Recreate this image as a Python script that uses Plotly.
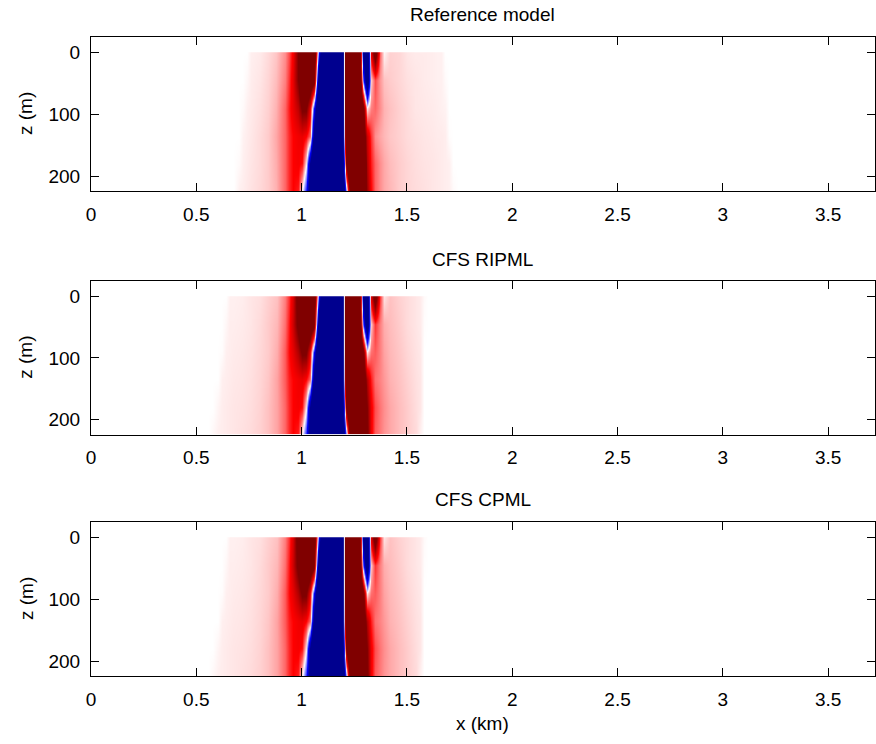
import plotly.graph_objects as go

# Snapshot depths (m) at which each wavefield row is sampled
depths_m = [0, 45, 90, 135, 180, 224]

# ---- Reference model snapshot -------------------------------------------
ref_x_km = [0.66, 0.68, 0.70, 0.72, 0.74, 0.76, 0.80, 0.84, 0.88, 0.92, 0.94,
            0.96, 0.98, 1.00, 1.02, 1.04, 1.06, 1.08, 1.10, 1.19, 1.21, 1.23,
            1.25, 1.27, 1.29, 1.31, 1.33, 1.35, 1.37, 1.39, 1.42, 1.46, 1.50,
            1.54, 1.58, 1.62, 1.64, 1.66, 1.68, 1.70, 1.72, 1.74]
ref_rows = [
    [0, 0, 0, 0, 0, 0.03, 0.04, 0.07, 0.11, 0.22, 0.35, 0.55, 1.0, 1.5, 1.6, 1.6, 1.5, -0.5, -2, -2, 2, 2,
     2, 2, -1, -2, 0.6, 1.3, 0.3, 0.02, 0.09, 0.08, 0.05, 0.04, 0.04, 0.035, 0.03, 0.03, 0, 0, 0, 0],
    [0, 0, 0, 0, 0.015, 0.035, 0.05, 0.08, 0.13, 0.25, 0.4, 0.6, 1.0, 1.5, 1.5, 1.4, 1.2, -1.5, -2, -2, 2, 2,
     2, 2, -0.3, -1.5, 0.1, 0.35, 0.2, 0.12, 0.1, 0.08, 0.06, 0.05, 0.04, 0.035, 0.03, 0.03, 0.01, 0, 0, 0],
    [0, 0, 0, 0.01, 0.03, 0.04, 0.06, 0.09, 0.15, 0.3, 0.45, 0.58, 0.75, 1.05, 1.05, 0.6, -0.5, -2, -2, -2, 2, 2,
     2, 2, 1.2, 0.05, 0.25, 0.3, 0.22, 0.15, 0.12, 0.09, 0.07, 0.05, 0.045, 0.04, 0.035, 0.03, 0.025, 0, 0, 0],
    [0, 0, 0, 0.025, 0.035, 0.045, 0.07, 0.1, 0.17, 0.3, 0.42, 0.5, 0.55, 0.58, 0.5, 0.3, -1.2, -2, -2, -2, 1.8, 2,
     2, 2, 1.3, 0.7, 0.4, 0.22, 0.17, 0.14, 0.11, 0.09, 0.07, 0.06, 0.05, 0.045, 0.04, 0.04, 0.035, 0.005, 0, 0],
    [0, 0, 0.01, 0.03, 0.04, 0.05, 0.07, 0.1, 0.16, 0.3, 0.42, 0.5, 0.53, 0.48, 0.05, -1.0, -2, -2, -2, -2, 1.0, 2,
     2, 2, 1.6, 0.8, 0.45, 0.3, 0.22, 0.17, 0.13, 0.1, 0.08, 0.065, 0.055, 0.05, 0.045, 0.04, 0.035, 0.03, 0, 0],
    [0, 0, 0.03, 0.035, 0.045, 0.055, 0.075, 0.1, 0.15, 0.3, 0.42, 0.5, 0.45, 0.02, -0.45, -1.3, -2, -2, -2, -2, -0.3, 1.2,
     2, 2, 1.6, 0.9, 0.5, 0.3, 0.22, 0.17, 0.14, 0.1, 0.08, 0.07, 0.06, 0.05, 0.045, 0.04, 0.035, 0.03, 0.01, 0],
]

# ---- CFS RIPML snapshot --------------------------------------------------
ripml_x_km = [0.56, 0.58, 0.60, 0.62, 0.64, 0.66, 0.68, 0.72, 0.76, 0.80, 0.84,
              0.88, 0.92, 0.94, 0.96, 0.98, 1.00, 1.02, 1.04, 1.06, 1.08, 1.10,
              1.19, 1.21, 1.23, 1.25, 1.27, 1.29, 1.31, 1.33, 1.35, 1.37, 1.39,
              1.42, 1.46, 1.50, 1.54, 1.56, 1.58, 1.60]
ripml_rows = [
    [0, 0, 0, 0, 0, 0.03, 0.03, 0.035, 0.05, 0.06, 0.09, 0.12, 0.25, 0.4, 0.65, 1.2, 1.6, 1.6, 1.6, 1.5, -0.5, -2,
     -2, 2, 2, 2, 2, -1, -2, 0.6, 1.3, 0.4, 0.05, 0.12, 0.09, 0.07, 0.05, 0.04, 0.01, 0],
    [0, 0, 0, 0, 0.015, 0.035, 0.035, 0.04, 0.05, 0.07, 0.1, 0.14, 0.28, 0.45, 0.7, 1.1, 1.5, 1.5, 1.4, 1.2, -1.5, -2,
     -2, 2, 2, 2, 2, -0.3, -1.5, 0.1, 0.4, 0.25, 0.16, 0.13, 0.1, 0.07, 0.05, 0.04, 0.005, 0],
    [0, 0, 0, 0.005, 0.03, 0.035, 0.04, 0.045, 0.055, 0.075, 0.1, 0.16, 0.32, 0.48, 0.6, 0.8, 1.05, 1.05, 0.6, -0.5, -2, -2,
     -2, 2, 2, 2, 2, 1.2, 0.05, 0.28, 0.32, 0.25, 0.18, 0.14, 0.11, 0.08, 0.055, 0.045, 0, 0],
    [0, 0, 0, 0.03, 0.035, 0.04, 0.045, 0.05, 0.06, 0.08, 0.11, 0.18, 0.32, 0.44, 0.5, 0.55, 0.58, 0.5, 0.3, -1.2, -2, -2,
     -2, 1.8, 2, 2, 2, 1.4, 0.8, 0.45, 0.28, 0.24, 0.2, 0.15, 0.12, 0.09, 0.06, 0.05, 0, 0],
    [0, 0, 0.02, 0.035, 0.04, 0.045, 0.05, 0.055, 0.065, 0.085, 0.12, 0.18, 0.3, 0.42, 0.5, 0.53, 0.48, 0.05, -1.0, -2, -2, -2,
     -2, 1.0, 2, 2, 2, 1.7, 1.0, 0.55, 0.35, 0.27, 0.22, 0.17, 0.13, 0.1, 0.065, 0.05, 0, 0],
    [0, 0.015, 0.03, 0.035, 0.04, 0.045, 0.05, 0.06, 0.07, 0.09, 0.12, 0.18, 0.3, 0.42, 0.5, 0.45, 0.05, -0.4, -1.2, -2, -2, -2,
     -2, -0.3, 1.2, 2, 2, 1.8, 1.1, 0.55, 0.32, 0.26, 0.21, 0.17, 0.13, 0.1, 0.07, 0.03, 0, 0],
]

# ---- CFS CPML snapshot (coincides with RIPML at plotting resolution) -----
cpml_x_km = list(ripml_x_km)
cpml_rows = [list(r) for r in ripml_rows]

panel_titles = ["Reference model", "CFS RIPML", "CFS CPML"]
x_ticks = [0, 0.5, 1, 1.5, 2, 2.5, 3, 3.5]
z_ticks = [0, 100, 200]

# Blue-white-red map with dark ends, clipped at +/-1
colorscale = [[0.0, "rgb(0,0,143)"], [0.25, "rgb(0,0,255)"], [0.5, "rgb(255,255,255)"],
              [0.75, "rgb(255,0,0)"], [1.0, "rgb(128,0,0)"]]

W, H = 876, 744
FONT = "Liberation Sans, Arial, sans-serif"
left_px, right_px = 91, 874.5
panel_px = [(37, 191), (281, 434.5), (522, 676)]   # top, bottom of each axes box

fig = go.Figure()
snapshots = [(ref_x_km, ref_rows), (ripml_x_km, ripml_rows), (cpml_x_km, cpml_rows)]
for i, (xs, rows) in enumerate(snapshots):
    # zero row just above the free surface so the model starts at z = 0
    z = [[0.0] * len(xs)] + rows
    y = [-1] + depths_m
    fig.add_trace(go.Heatmap(
        x=xs, y=y, z=z, zmin=-1, zmax=1, colorscale=colorscale, showscale=False,
        zsmooth="best", hoverinfo="skip",
        xaxis="x" if i == 0 else f"x{i+1}", yaxis="y" if i == 0 else f"y{i+1}"))

axis_common = dict(showline=True, linecolor="black", linewidth=1, mirror="ticks",
                   ticks="inside", ticklen=8, tickwidth=1, tickcolor="black",
                   showgrid=False, zeroline=False, automargin=False,
                   tickfont=dict(family=FONT, size=19, color="black"))

layout = dict(width=W, height=H, margin=dict(l=0, r=0, t=0, b=0, autoexpand=False),
              paper_bgcolor="white", plot_bgcolor="white", showlegend=False)
annotations = []
for i, (top, bot) in enumerate(panel_px):
    sfx = "" if i == 0 else str(i + 1)
    ydom = [1 - bot / H, 1 - top / H]
    layout["xaxis" + sfx] = dict(axis_common, domain=[left_px / W, right_px / W],
                                 range=[0, 3.72], tickvals=x_ticks,
                                 ticktext=[f"{v:g}" for v in x_ticks],
                                 anchor="y" + sfx, ticklabelstandoff=6)
    layout["yaxis" + sfx] = dict(axis_common, domain=ydom, range=[224, -24.5],
                                 tickvals=z_ticks, ticktext=[str(v) for v in z_ticks],
                                 anchor="x" + sfx, ticklabelstandoff=6)
    annotations.append(dict(text=panel_titles[i], xref="paper", yref="paper",
                            x=(left_px + right_px) / 2 / W, y=1 - (top - 22) / H,
                            xanchor="center", yanchor="middle", showarrow=False,
                            font=dict(family=FONT, size=19, color="black")))
    annotations.append(dict(text="z (m)", xref="paper", yref="paper",
                            x=26 / W, y=1 - (top + bot) / 2 / H, textangle=-90,
                            xanchor="center", yanchor="middle", showarrow=False,
                            font=dict(family=FONT, size=19, color="black")))
annotations.append(dict(text="x (km)", xref="paper", yref="paper",
                        x=(left_px + right_px) / 2 / W, y=1 - 723 / H,
                        xanchor="center", yanchor="middle", showarrow=False,
                        font=dict(family=FONT, size=19, color="black")))
layout["annotations"] = annotations
fig.update_layout(**layout)

fig.write_html("out.html")
